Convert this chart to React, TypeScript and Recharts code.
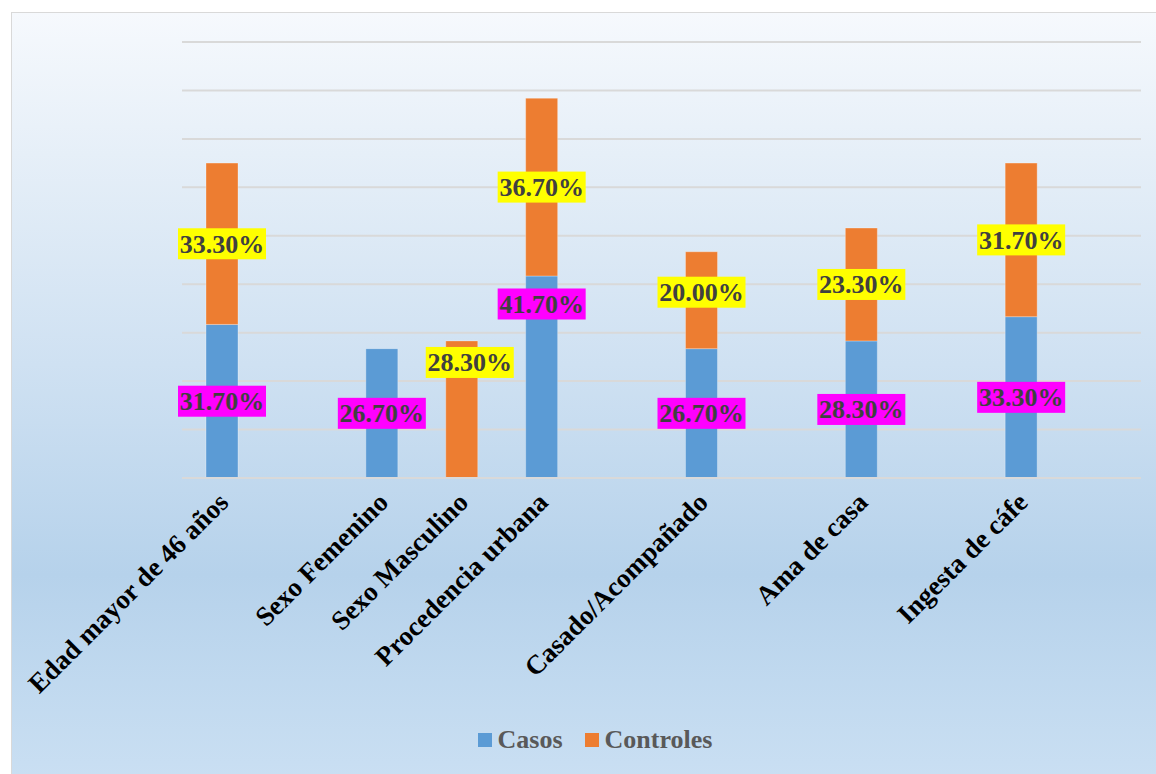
import React from 'react';
import { BarChart, Bar, XAxis, YAxis, CartesianGrid, Legend, LabelList } from 'recharts';

// empty slots keep the uneven spacing of the original Excel chart
const categories = [
  'Edad mayor de 46 años', '', 'Sexo Femenino', 'Sexo Masculino', 'Procedencia urbana', '',
  'Casado/Acompañado', '', 'Ama de casa', '', 'Ingesta de cáfe', '',
];
const casos = [31.7, null, 26.7, null, 41.7, null, 26.7, null, 28.3, null, 33.3, null];
const controles = [33.3, null, null, 28.3, 36.7, null, 20.0, null, 23.3, null, 31.7, null];
const yTicks = [0, 10, 20, 30, 40, 50, 60, 70, 80, 90];

const data = categories.map((name, i) => ({
  name: name || `_${i}`,
  casos: casos[i],
  controles: controles[i],
}));

// labels that were dragged by hand in the original
const labelNudge: Record<string, { dx: number; dy: number }> = {
  'casos-Procedencia urbana': { dx: 0, dy: -73 },
  'controles-Sexo Masculino': { dx: 8, dy: -47 },
  'controles-Casado/Acompañado': { dx: 0, dy: -8 },
};

const FONT = '"Liberation Serif", "Times New Roman", serif';

const makeLabel = (series: string, values: (number | null)[], bg: string) => {
  // LabelList index counts only the drawn (non-null) bars
  const slots = values.map((v, i) => (v == null ? -1 : i)).filter((i) => i >= 0);
  return (props: any) => {
    const { x, y, width, height, value, index } = props;
    if (value == null) return null;
    const cat = categories[slots[index]] || '';
    const nudge = labelNudge[`${series}-${cat}`] || { dx: 0, dy: 0 };
    const cx = Number(x) + Number(width) / 2 + nudge.dx;
    const cy = Number(y) + Number(height) / 2 + nudge.dy;
    const w = 88;
    const h = 31;
    return (
      <g>
        <rect x={cx - w / 2} y={cy - h / 2} width={w} height={h} fill={bg} />
        <text
          x={cx}
          y={cy + 9}
          textAnchor="middle"
          fontFamily={FONT}
          fontWeight="bold"
          fontSize={26}
          fill="#404040"
        >
          {`${Number(value).toFixed(2)}%`}
        </text>
      </g>
    );
  };
};

const XTick = ({ x, y, index }: any) => {
  const text = categories[index];
  if (!text) return null;
  return (
    <text
      transform={`translate(${x + 8},${y + 18}) rotate(-45)`}
      textAnchor="end"
      fontFamily={FONT}
      fontWeight="bold"
      fontSize={27}
      fill="#000000"
    >
      {text}
    </text>
  );
};

const NoTick = () => <g />;

const LegendContent = () => (
  <div style={{ display: 'flex', justifyContent: 'center', alignItems: 'center', height: 60, paddingRight: 133, marginTop: -4, gap: 22 }}>
    {[
      { name: 'Casos', color: '#5B9BD5' },
      { name: 'Controles', color: '#ED7D31' },
    ].map((it) => (
      <div key={it.name} style={{ display: 'flex', alignItems: 'center' }}>
        <div style={{ width: 14, height: 14, background: it.color, marginRight: 6 }} />
        <span style={{ fontFamily: FONT, fontWeight: 'bold', fontSize: 26, color: '#595959' }}>{it.name}</span>
      </div>
    ))}
  </div>
);

export default function App() {
  return (
    <div style={{ position: 'fixed', left: 0, top: 0, width: 1156, height: 774, background: '#ffffff', overflow: 'hidden' }}>
      <div
        style={{
          position: 'absolute',
          left: 11,
          top: 12,
          width: 1160,
          height: 780,
          border: '1.5px solid #d9d9d9',
          background: 'linear-gradient(to bottom, #f6f9fd 0%, #e6eff8 18%, #cfe1f2 45%, #b6d2eb 72%, #cbe0f3 100%)',
        }}
      />
      <div style={{ position: 'absolute', left: 0, top: 0 }}>
        <BarChart width={1156} height={774} data={data} margin={{ top: 42, right: 15, left: 182, bottom: 0 }}>
          <CartesianGrid vertical={false} stroke="#d9d9d9" strokeWidth={2} />
          <XAxis
            dataKey="name"
            interval={0}
            height={236}
            tick={<XTick />}
            tickLine={false}
            axisLine={{ stroke: '#d9d9d9', strokeWidth: 2 }}
          />
          <YAxis domain={[0, 90]} ticks={yTicks} width={0} tick={<NoTick />} axisLine={false} tickLine={false} />
          <Legend verticalAlign="bottom" height={60} content={<LegendContent />} />
          <Bar dataKey="casos" name="Casos" stackId="a" fill="#5B9BD5" barSize={32} stroke="#ffffff" strokeOpacity={0.3} isAnimationActive={false}>
            <LabelList dataKey="casos" content={makeLabel('casos', casos, '#FF00FF')} />
          </Bar>
          <Bar dataKey="controles" name="Controles" stackId="a" fill="#ED7D31" barSize={32} stroke="#ffffff" strokeOpacity={0.3} isAnimationActive={false}>
            <LabelList dataKey="controles" content={makeLabel('controles', controles, '#FFFF00')} />
          </Bar>
        </BarChart>
      </div>
    </div>
  );
}
